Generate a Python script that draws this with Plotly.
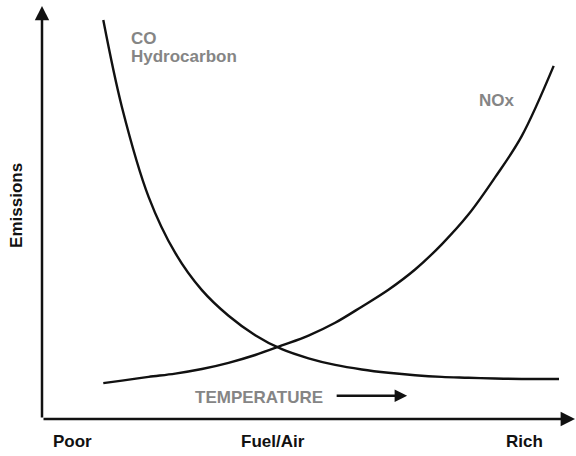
import plotly.graph_objects as go

# Fuel/air ratio (arbitrary units, 0 = poor, 10 = rich) and relative emissions
co_x = [1.15, 1.5, 2.0, 2.5, 3.0, 3.5, 4.0, 4.5, 5.0, 5.5, 6.0, 6.5, 7.0, 7.5, 8.0, 8.5, 9.0, 9.7]
co_y = [9.66, 7.55, 5.38, 4.02, 3.12, 2.50, 2.03, 1.69, 1.47, 1.31, 1.20, 1.12, 1.06, 1.02,
        1.00, 0.98, 0.97, 0.97]

nox_x = [1.15, 1.5, 2.0, 2.5, 3.0, 3.5, 4.0, 4.5, 5.0, 5.5, 6.0, 6.5, 7.0, 7.5, 8.0, 8.5,
         9.0, 9.6]
nox_y = [0.87, 0.93, 1.02, 1.10, 1.21, 1.36, 1.55, 1.78, 2.02, 2.33, 2.72, 3.13, 3.62, 4.23,
         4.95, 5.85, 6.85, 8.55]

x_labels = ["Poor", "Fuel/Air", "Rich"]
x_label_pos = [0.0563, 0.4334, 0.906]   # paper fraction along the x axis

FONT = "Arial, 'Liberation Sans', sans-serif"
GRAY = "#858585"
INK = "#111111"

fig = go.Figure()
fig.add_trace(go.Scatter(x=co_x, y=co_y, mode="lines", name="CO / Hydrocarbon",
                         line=dict(color=INK, width=2.4, shape="spline", smoothing=1.0)))
fig.add_trace(go.Scatter(x=nox_x, y=nox_y, mode="lines", name="NOx",
                         line=dict(color=INK, width=2.4, shape="spline", smoothing=1.0)))

ann = []
# axis arrows
ann.append(dict(xref="paper", yref="paper", x=0, y=1, ax=0, ay=413, axref="pixel", ayref="pixel",
                text="", showarrow=True, arrowhead=2, arrowsize=1.15, arrowwidth=2.5,
                arrowcolor=INK, standoff=0))
ann.append(dict(xref="paper", yref="paper", x=1, y=0, ax=-533, ay=0, axref="pixel", ayref="pixel",
                text="", showarrow=True, arrowhead=2, arrowsize=1.15, arrowwidth=2.5,
                arrowcolor=INK, standoff=0))
# temperature arrow
ann.append(dict(xref="x", yref="y", x=6.85, y=0.56, ax=5.50, ay=0.56, axref="x", ayref="y",
                text="", showarrow=True, arrowhead=2, arrowsize=1.0, arrowwidth=2.5,
                arrowcolor=INK, standoff=0))
ann.append(dict(xref="x", yref="y", x=2.83, y=0.53, text="TEMPERATURE", showarrow=False,
                xanchor="left", yanchor="middle",
                font=dict(family=FONT, size=17, color=GRAY, weight="bold")))
# curve labels
ann.append(dict(xref="x", yref="y", x=1.63, y=9.22, text="CO", showarrow=False,
                xanchor="left", yanchor="middle",
                font=dict(family=FONT, size=17, color=GRAY, weight="bold")))
ann.append(dict(xref="x", yref="y", x=1.63, y=8.77, text="Hydrocarbon", showarrow=False,
                xanchor="left", yanchor="middle",
                font=dict(family=FONT, size=17, color=GRAY, weight="bold")))
ann.append(dict(xref="x", yref="y", x=8.54, y=7.72, text="NOx", showarrow=False,
                xanchor="center", yanchor="middle",
                font=dict(family=FONT, size=17, color=GRAY, weight="bold")))
# axis labels (outside the plotting area, so placed in paper coordinates)
for lab, pos in zip(x_labels, x_label_pos):
    ann.append(dict(xref="paper", yref="paper", x=pos, y=-0.0533, text=lab, showarrow=False,
                    xanchor="center", yanchor="middle",
                    font=dict(family=FONT, size=17, color=INK, weight="bold")))
ann.append(dict(xref="paper", yref="paper", x=-0.0469, y=0.516, text="Emissions", showarrow=False,
                textangle=-90, xanchor="center", yanchor="middle",
                font=dict(family=FONT, size=17, color=INK, weight="bold")))

fig.update_layout(
    width=576, height=456,
    margin=dict(l=42, r=1, t=6, b=37),
    paper_bgcolor="white", plot_bgcolor="white",
    showlegend=False,
    xaxis=dict(range=[0, 10], visible=False, fixedrange=True),
    yaxis=dict(range=[0, 10], visible=False, fixedrange=True),
    annotations=ann,
)

fig.write_html("out.html", config={"displayModeBar": False})
